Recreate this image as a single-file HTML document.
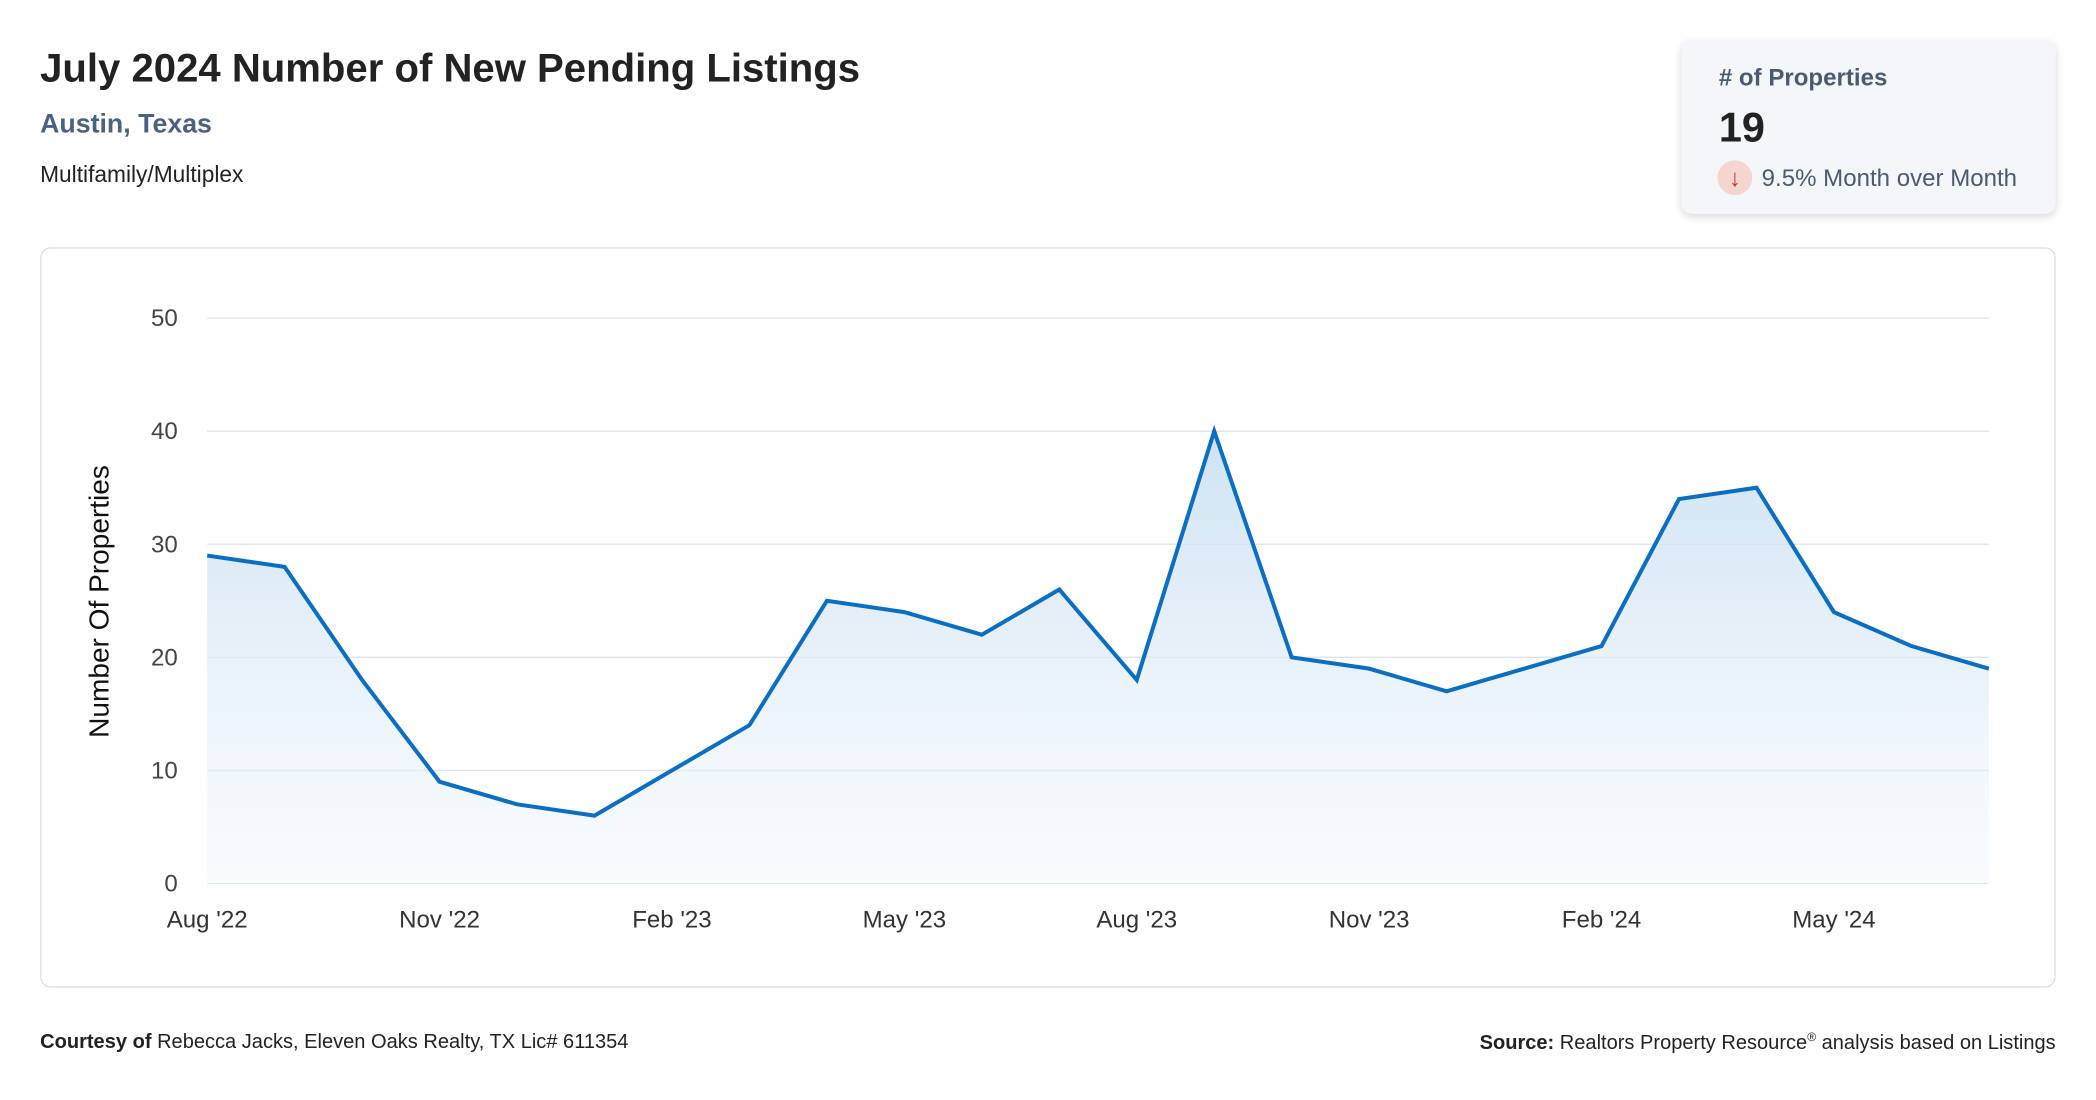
<!DOCTYPE html>
<html><head><meta charset="utf-8"><style>
html,body{margin:0;padding:0;background:#fff;width:2096px;height:1100px;overflow:hidden}
#wrap{position:absolute;left:0;top:0;width:1560px;height:819px;transform:scale(1.3366);transform-origin:0 0;font-family:"Liberation Sans",sans-serif}
.abs{position:absolute;white-space:nowrap}
</style></head><body>
<div id="wrap">
<div class="abs" style="left:30px;top:35px;font-size:30px;font-weight:bold;color:#222">July 2024 Number of New Pending Listings</div>
<div class="abs" style="left:30px;top:82px;font-size:20px;font-weight:bold;color:#4a6282">Austin, Texas</div>
<div class="abs" style="left:30px;top:121px;font-size:17px;color:#222">Multifamily/Multiplex</div>
<div class="abs" style="left:1258px;top:30px;width:280px;height:130px;background:#f4f6fa;border-radius:8px;box-shadow:0 2px 6px rgba(0,0,0,0.15)">
 <div class="abs" style="left:28px;top:18px;font-size:18px;font-weight:bold;color:#4a5a72"># of Properties</div>
 <div class="abs" style="left:28px;top:48px;font-size:31px;font-weight:bold;color:#222">19</div>
 <div class="abs" style="left:27px;top:90px;width:26px;height:26px;border-radius:13px;background:#f5d5d0;color:#c0392b;font-size:18px;text-align:center;line-height:26px">↓</div>
 <div class="abs" style="left:60px;top:93px;font-size:18px;color:#4a5a72">9.5% Month over Month</div>
</div>
<div class="abs" style="left:30px;top:185px;width:1506px;height:552px;border:1px solid #d8dee8;border-radius:8px"></div>
<svg class="abs" style="left:0;top:0" width="1560" height="819">
<defs><linearGradient id="g" x1="0" y1="0" x2="0" y2="1"><stop offset="0" stop-color="#c9dff2" stop-opacity="0.9"/><stop offset="1" stop-color="#eef5fc" stop-opacity="0.4"/></linearGradient></defs>
<g id="grid"></g><g id="marks"></g><g id="labels"></g>
<text transform="translate(81,450) rotate(-90)" text-anchor="middle" font-size="21" fill="#111" font-family="Liberation Sans, sans-serif">Number Of Properties</text>
</svg>
<div class="abs" style="left:30px;top:771px;font-size:15px;color:#222"><b>Courtesy of</b> Rebecca Jacks, Eleven Oaks Realty, TX Lic# 611354</div>
<div class="abs" style="right:22px;top:771px;font-size:15px;color:#222"><b>Source:</b> Realtors Property Resource<sup style="font-size:9px">®</sup> analysis based on Listings</div>
</div>
<script>
const values=[29,28,18,9,7,6,10,14,25,24,22,26,18,40,20,19,17,19,21,34,35,24,21,19];
const yTicks=[0,10,20,30,40,50];
const xTickLabels=["Aug '22","Nov '22","Feb '23","May '23","Aug '23","Nov '23","Feb '24","May '24"];
const xTickIdx=[0,3,6,9,12,15,18,21];
const X0=155,X1=1488,Y0=661,Y1=238,YMAX=50;
const x=i=>X0+(X1-X0)*i/(values.length-1);
const y=v=>Y0-(Y0-Y1)*v/YMAX;
const NS="http://www.w3.org/2000/svg";
function mk(tag,attrs,parent){const e=document.createElementNS(NS,tag);for(const k in attrs)e.setAttribute(k,attrs[k]);document.getElementById(parent).appendChild(e);return e;}
yTicks.forEach(t=>{
 const l=mk('line',{x1:X0,x2:X1,y1:y(t),y2:y(t),stroke:'#dde3ea','stroke-width':1},'grid');
 
 
 const tx=mk('text',{x:133,y:y(t)+6,'text-anchor':'end','font-size':18,fill:'#444','font-family':'Liberation Sans, sans-serif'},'labels');
 tx.textContent=t;
 
 
});
xTickIdx.forEach((idx,k)=>{
 const tx=mk('text',{x:x(idx),y:694,'text-anchor':'middle','font-size':18,fill:'#333','font-family':'Liberation Sans, sans-serif'},'labels');
 tx.textContent=xTickLabels[k];
 
 
});
const pts=values.map((v,i)=>x(i)+','+y(v)).join(' ');
const area=mk('polygon',{points:x(0)+','+y(0)+' '+pts+' '+x(values.length-1)+','+y(0),fill:'url(#g)'},'marks');


const line=mk('polyline',{points:pts,fill:'none',stroke:'#0a6fc2','stroke-width':3,'stroke-linejoin':'miter'},'marks');


</script>
</body></html>
